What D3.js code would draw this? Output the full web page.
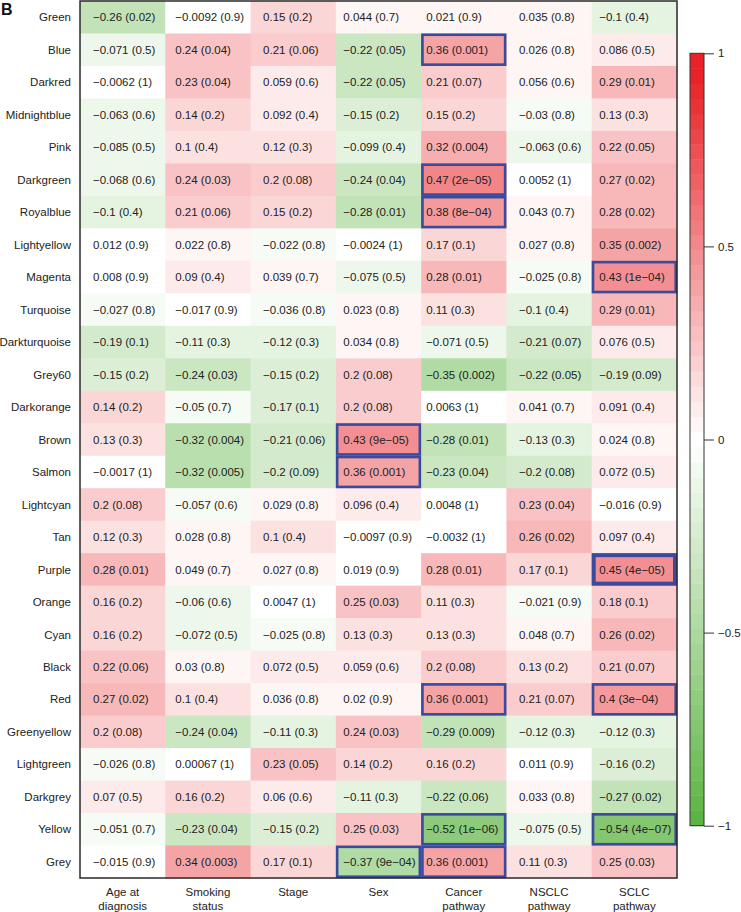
<!DOCTYPE html>
<html>
<head>
<meta charset="utf-8">
<script src="https://cdn.jsdelivr.net/npm/d3@7"></script>
<style>
  html, body { margin: 0; padding: 0; background: #fff; }
  svg { display: block; font-family: "Liberation Sans", Arial, Helvetica, sans-serif; }
</style>
</head>
<body>
<svg id="chart" width="741" height="912"></svg>
<script>
// ---------------- data ----------------
const modules = ["Green","Blue","Darkred","Midnightblue","Pink","Darkgreen","Royalblue","Lightyellow","Magenta","Turquoise","Darkturquoise","Grey60","Darkorange","Brown","Salmon","Lightcyan","Tan","Purple","Orange","Cyan","Black","Red","Greenyellow","Lightgreen","Darkgrey","Yellow","Grey"];
const traits = ["Age at diagnosis","Smoking status","Stage","Sex","Cancer pathway","NSCLC pathway","SCLC pathway"];
const traitLines = [["Age at","diagnosis"],["Smoking","status"],["Stage"],["Sex"],["Cancer","pathway"],["NSCLC","pathway"],["SCLC","pathway"]];

const ageR     = [-0.26,-0.071,-0.0062,-0.063,-0.085,-0.068,-0.1,0.012,0.008,-0.027,-0.19,-0.15,0.14,0.13,-0.0017,0.2,0.12,0.28,0.16,0.16,0.22,0.27,0.2,-0.026,0.07,-0.051,-0.015];
const ageP     = ["0.02","0.5","1","0.6","0.5","0.6","0.4","0.9","0.9","0.8","0.1","0.2","0.2","0.3","1","0.08","0.3","0.01","0.2","0.2","0.06","0.02","0.08","0.8","0.5","0.7","0.9"];
const smokingR = [-0.0092,0.24,0.23,0.14,0.1,0.24,0.21,0.022,0.09,-0.017,-0.11,-0.24,-0.05,-0.32,-0.32,-0.057,0.028,0.049,-0.06,-0.072,0.03,0.1,-0.24,0.00067,0.16,-0.23,0.34];
const smokingP = ["0.9","0.04","0.04","0.2","0.4","0.03","0.06","0.8","0.4","0.9","0.3","0.03","0.7","0.004","0.005","0.6","0.8","0.7","0.6","0.5","0.8","0.4","0.04","1","0.2","0.04","0.003"];
const stageR   = [0.15,0.21,0.059,0.092,0.12,0.2,0.15,-0.022,0.039,-0.036,-0.12,-0.15,-0.17,-0.21,-0.2,0.029,0.1,0.027,0.0047,-0.025,0.072,0.036,-0.11,0.23,0.06,-0.15,0.17];
const stageP   = ["0.2","0.06","0.6","0.4","0.3","0.08","0.2","0.8","0.7","0.8","0.3","0.2","0.1","0.06","0.09","0.8","0.4","0.8","1","0.8","0.5","0.8","0.3","0.05","0.6","0.2","0.1"];
const sexR     = [0.044,-0.22,-0.22,-0.15,-0.099,-0.24,-0.28,-0.0024,-0.075,0.023,0.034,0.2,0.2,0.43,0.36,0.096,-0.0097,0.019,0.25,0.13,0.059,0.02,0.24,0.14,-0.11,0.25,-0.37];
const sexP     = ["0.7","0.05","0.05","0.2","0.4","0.04","0.01","1","0.5","0.8","0.8","0.08","0.08","9e-05","0.001","0.4","0.9","0.9","0.03","0.3","0.6","0.9","0.03","0.2","0.3","0.03","9e-04"];
const cancerR  = [0.021,0.36,0.21,0.15,0.32,0.47,0.38,0.17,0.28,0.11,-0.071,-0.35,0.0063,-0.28,-0.23,0.0048,-0.0032,0.28,0.11,0.13,0.2,0.36,-0.29,0.16,-0.22,-0.52,0.36];
const cancerP  = ["0.9","0.001","0.07","0.2","0.004","2e-05","8e-04","0.1","0.01","0.3","0.5","0.002","1","0.01","0.04","1","1","0.01","0.3","0.3","0.08","0.001","0.009","0.2","0.06","1e-06","0.001"];
const nsclcR   = [0.035,0.026,0.056,-0.03,-0.063,0.0052,0.043,0.027,-0.025,-0.1,-0.21,-0.22,0.041,-0.13,-0.2,0.23,0.26,0.17,-0.021,0.048,0.13,0.21,-0.12,0.011,0.033,-0.075,0.11];
const nsclcP   = ["0.8","0.8","0.6","0.8","0.6","1","0.7","0.8","0.8","0.4","0.07","0.05","0.7","0.3","0.08","0.04","0.02","0.1","0.9","0.7","0.2","0.07","0.3","0.9","0.8","0.5","0.3"];
const sclcR    = [-0.1,0.086,0.29,0.13,0.22,0.27,0.28,0.35,0.43,0.29,0.076,-0.19,0.091,0.024,0.072,-0.016,0.097,0.45,0.18,0.26,0.21,0.4,-0.12,-0.16,-0.27,-0.54,0.25];
const sclcP    = ["0.4","0.5","0.01","0.3","0.05","0.02","0.02","0.002","1e-04","0.01","0.5","0.09","0.4","0.8","0.5","0.9","0.4","4e-05","0.1","0.02","0.07","3e-04","0.3","0.2","0.02","4e-07","0.03"];

const legendTicks = [-1, -0.5, 0, 0.5, 1];
const emphasized = [["Purple","SCLC pathway"]];

const rColumns = [ageR, smokingR, stageR, sexR, cancerR, nsclcR, sclcR];
const pColumns = [ageP, smokingP, stageP, sexP, cancerP, nsclcP, sclcP];

// ---------------- layout ----------------
const plot = { left: 80, right: 677, top: 1, bottom: 878 };
const textOffsets = [13, 10, 12.5, 7.5, 5, 12.5, 7.5];
const bar = { x: 690, w: 14, top: 53.3, bottom: 825.7 };

const svg = d3.select("#chart");

const x = d3.scaleBand().domain(traits).range([plot.left, plot.right]);
const y = d3.scaleBand().domain(modules).range([plot.top, plot.bottom]);

// colour palettes: 51 steps green -> white -> red
const nCol = 51, half = 25;
const greenEnd = d3.rgb(93, 180, 67), redEnd = d3.rgb(232, 34, 40);
function makePalette(gainGreen, gainRed) {
  return d3.range(nCol).map(i => {
    if (i < half) return d3.interpolateRgb("#ffffff", greenEnd)(Math.min(1, gainGreen * (half - i) / half));
    if (i > half) return d3.interpolateRgb("#ffffff", redEnd)(Math.min(1, gainRed * (i - half) / half));
    return "#ffffff";
  });
}
const cellPalette = makePalette(1.35, 1.15);
const barPalette = makePalette(1.0, 1.05);
const color = d3.scaleQuantize().domain([-1, 1]).range(cellPalette);

const minus = s => String(s).replace(/-/g, "\u2212");

const cells = [];
traits.forEach((t, j) => {
  modules.forEach((m, i) => {
    cells.push({ module: m, trait: t, j, r: rColumns[j][i], p: pColumns[j][i] });
  });
});

// cells
svg.append("g").selectAll("rect").data(cells).join("rect")
  .attr("x", d => x(d.trait))
  .attr("y", d => y(d.module))
  .attr("width", x.bandwidth() + 0.5)
  .attr("height", y.bandwidth() + 0.5)
  .attr("fill", d => color(d.r));

// cell text
svg.append("g").selectAll("text").data(cells).join("text")
  .attr("x", d => x(d.trait) + textOffsets[d.j])
  .attr("y", d => y(d.module) + y.bandwidth() / 2)
  .attr("dy", "0.36em")
  .attr("font-size", 11.5)
  .attr("fill", "#222")
  .text(d => `${minus(d.r)} (${minus(d.p)})`);

// highlight boxes for p <= 0.001
const isEmph = d => emphasized.some(e => e[0] === d.module && e[1] === d.trait);
const boxed = cells.filter(d => +d.p <= 0.001);
svg.append("g").selectAll("rect").data(boxed).join("rect")
  .attr("x", d => x(d.trait) + (isEmph(d) ? 2 : 1.3))
  .attr("y", d => y(d.module) + (isEmph(d) ? 2 : 1.3))
  .attr("width", d => x.bandwidth() - (isEmph(d) ? 4 : 2.6))
  .attr("height", d => y.bandwidth() - (isEmph(d) ? 4 : 2.6))
  .attr("fill", "none")
  .attr("stroke", "#3a4a9c")
  .attr("stroke-width", d => isEmph(d) ? 4 : 2.6);

// frame
svg.append("rect")
  .attr("x", plot.left).attr("y", plot.top)
  .attr("width", plot.right - plot.left).attr("height", plot.bottom - plot.top)
  .attr("fill", "none").attr("stroke", "#2a2a2a").attr("stroke-width", 1.5);

// row labels
svg.append("g").selectAll("text").data(modules).join("text")
  .attr("x", 71)
  .attr("y", d => y(d) + y.bandwidth() / 2)
  .attr("dy", "0.36em")
  .attr("text-anchor", "end")
  .attr("font-size", 11.5)
  .attr("fill", "#222")
  .text(d => d);

// column labels
const colG = svg.append("g").selectAll("text").data(traits).join("text")
  .attr("text-anchor", "middle")
  .attr("font-size", 11.5)
  .attr("fill", "#222");
colG.each(function(t, j) {
  const sel = d3.select(this);
  traitLines[j].forEach((line, k) => {
    sel.append("tspan")
      .attr("x", x(t) + x.bandwidth() / 2)
      .attr("y", 896 + k * 13.5)
      .text(line);
  });
});

// panel letter
svg.append("text").attr("x", 1).attr("y", 14.5)
  .attr("font-size", 16).attr("font-weight", "bold").attr("fill", "#111")
  .text("B");

// legend
const ly = d3.scaleLinear().domain([-1, 1]).range([bar.bottom, bar.top]);
const step = 2 / nCol;
svg.append("g").selectAll("rect").data(barPalette).join("rect")
  .attr("x", bar.x)
  .attr("y", (c, i) => ly(-1 + (i + 1) * step))
  .attr("width", bar.w)
  .attr("height", (c, i) => ly(-1 + i * step) - ly(-1 + (i + 1) * step) + 0.4)
  .attr("fill", c => c);
svg.append("rect")
  .attr("x", bar.x).attr("y", bar.top)
  .attr("width", bar.w).attr("height", bar.bottom - bar.top)
  .attr("fill", "none").attr("stroke", "#333").attr("stroke-width", 1);

const axis = d3.axisRight(ly).tickValues(legendTicks).tickSize(10).tickPadding(4)
  .tickFormat(d => d3.format("")(d));
const ag = svg.append("g").attr("transform", `translate(${bar.x + bar.w},0)`).call(axis);
ag.select(".domain").remove();
ag.selectAll(".tick line").attr("stroke", "#333");
ag.selectAll(".tick text").attr("font-size", 11.5).attr("fill", "#222")
  .attr("font-family", "'Liberation Sans', Arial, sans-serif");
</script>
</body>
</html>
